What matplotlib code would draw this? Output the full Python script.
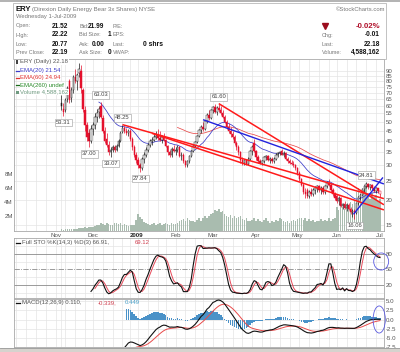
import matplotlib
matplotlib.use('Agg')
import matplotlib.pyplot as plt
import matplotlib.patches as mpatches
from matplotlib.lines import Line2D
from matplotlib.ticker import NullLocator
import numpy as np
import pandas as pd

plt.rcParams['font.family'] = ['Liberation Sans', 'DejaVu Sans']

# ---- trading calendar (ERY daily, 6-Nov-2008 .. 1-Jul-2009)
holidays = pd.to_datetime(['2008-11-27', '2008-12-25', '2009-01-01', '2009-01-19',
                           '2009-02-16', '2009-04-10', '2009-05-25'])
dates = pd.bdate_range('2008-11-06', '2009-07-01')
dates = dates[~dates.isin(holidays)]

# ---- daily OHLC (Nov, Dec, Jan, Feb, Mar, Apr, May, Jun, Jul)
open_ = np.array([
    62, 58, 57, 65, 80, 66, 72, 84, 80, 88, 90, 72, 57, 48, 44, 40,
    46, 48, 53, 56, 60, 52, 45, 41, 38, 35, 36, 37, 36, 37.5, 40, 44.5, 46.5, 45, 44, 45, 41, 37,
    34, 32, 30, 29, 32.5, 34, 36, 38, 40, 40.5, 42, 42.5, 41.5, 40.5, 42, 40.5, 37.5, 35, 34, 36.5,
    35.5, 36, 37, 33.5, 34, 31.5, 30, 31.5, 33.5, 35.5, 37.5, 39.5, 42.5, 45.5, 47, 46, 50.5, 54, 52,
    57, 59, 56, 58.5, 57.5, 55, 53, 50, 47, 45, 43.5, 42, 39, 37, 35, 32, 31, 32, 30.5, 32.5, 35.5, 39,
    35.5, 33, 31.5, 31, 31.5, 33, 33.5, 32, 32.5, 31.5, 32.5, 34, 34.5, 35.5, 34, 34.5, 32.5, 31.5, 31, 30.5, 30,
    29, 27.5, 25.5, 24, 22, 22.5, 21, 22, 21.5, 22.5, 23, 23.5, 22.5, 23, 22, 23.5, 24.5, 24, 22.5, 21.5,
    21, 19.8, 20.5, 18.8, 19.2, 18.4, 19, 18, 17.4, 17.6, 17.2, 19.3, 20.8, 21.4, 22.8, 23.6, 24.2, 23.3, 23.8, 23, 22.4, 23,
    21.52])
high = np.array([
    68, 62, 66, 76, 82, 75, 86, 92, 88, 99, 96, 74, 60, 50, 46, 48,
    50, 55, 58, 60, 63.03, 54, 47, 44, 40, 37, 38, 38, 38.5, 41, 45, 48.25, 47.5, 46.5, 46, 46, 42, 38,
    35, 33, 31, 33, 35, 37, 39, 41, 42, 44, 45, 46, 45, 43, 44, 41, 38, 36, 37, 38,
    37, 38, 37.5, 35, 34.5, 32, 32, 34, 36, 38, 40, 43, 46, 48, 50, 51, 55, 57, 58,
    60, 61, 60, 61.60, 60, 57, 54, 51, 49, 47, 45, 43, 40, 38, 35.5, 33, 32.5, 32, 33, 36, 38, 40.6,
    36, 34, 32.5, 32, 33.5, 34, 34, 33, 33, 33, 34.5, 35, 35.5, 36.5, 35.5, 35, 33, 32.5, 32, 31.5, 30.5,
    29.5, 28, 26, 24.5, 23, 23, 22.5, 23, 23, 23.5, 24, 24, 23.5, 23.5, 24, 25, 25.5, 24.5, 23, 22,
    21.5, 21, 20.8, 19.5, 19.8, 19.4, 19.3, 18.6, 18, 18, 19.5, 21, 21.8, 23, 24, 24.81, 24.5, 24.2, 24.3, 23.6, 23.4, 23.2,
    22.22])
low = np.array([
    57, 53.31, 56, 63, 62, 63, 70, 78, 72, 84, 70, 56, 45, 40, 37.00, 39,
    43, 46, 50, 52, 52, 44, 39, 37, 34, 33.07, 35, 35, 35.5, 37, 39.5, 44, 44, 43, 42.5, 40, 36, 33,
    31, 29, 27.84, 28.5, 31, 33, 35, 37, 38, 40, 41, 40.5, 40, 39, 40, 37, 34, 33, 33, 35,
    34, 35, 33, 32, 31, 29.4, 29.5, 31, 33, 35, 37, 39, 42, 44, 45, 45.5, 49, 51, 51.5,
    55, 55, 54, 56, 54, 52, 49, 46, 44, 42, 41, 38, 36, 34, 31, 30, 30, 30, 30, 32, 34, 35,
    32, 31, 30.5, 30, 31, 32, 31.5, 31, 31, 31, 32, 33, 34, 34, 33, 32, 31, 30.5, 30, 29.5, 28.5,
    27, 25, 23.5, 21.5, 20.5, 20.5, 20.5, 21, 21, 21.5, 22, 22, 21.5, 21.5, 21.5, 23, 23.5, 22, 21, 20,
    19.5, 19, 18.5, 18, 18, 17.6, 17.8, 17, 16.5, 16.06, 17, 19, 20, 21, 22, 23, 22.8, 22.5, 22.6, 22, 21.8, 21.9,
    20.77])
close = np.array([
    60, 56, 64, 74, 64, 72, 84, 80, 86, 92, 74, 58, 48, 42, 40, 46,
    48, 53, 55, 58, 53, 45, 40, 38, 35, 36, 37, 36, 37.5, 40, 44, 46.5, 45, 44, 45, 41, 37, 34,
    32, 30, 29, 32.5, 34, 36, 38, 40, 40.5, 42, 42.5, 41.5, 40.5, 42, 40.5, 37.5, 35, 34, 36.5, 35.5,
    36, 37, 33.5, 34, 31.5, 30, 31.5, 33.5, 35.5, 37.5, 39.5, 42.5, 45.5, 47, 46, 50.5, 54, 52, 57,
    59, 56, 58.5, 57.5, 55, 53, 50, 47, 45, 43.5, 42, 39, 37, 35, 32, 31, 32, 30.5, 32.5, 35.5, 37, 35.5,
    33, 31.5, 31, 31.5, 33, 33.5, 32, 32.5, 31.5, 32.5, 34, 34.5, 35, 34, 34.5, 32.5, 31.5, 31, 30.5, 30, 29,
    27.5, 25.5, 24, 22, 21.5, 21, 22, 21.5, 22.5, 23, 23.5, 22.5, 23, 22, 23.5, 24.5, 24, 22.5, 21.5, 20.5,
    19.8, 20.5, 18.8, 19.2, 18.4, 19, 18, 17.4, 17.6, 17.2, 19.3, 20.8, 21.4, 22.8, 23.6, 24.2, 23.3, 23.8, 23, 22.4, 23, 22.19,
    22.18])
# volume in millions
volume = np.array([
    0.25, 0.2, 0.22, 0.25, 0.3, 0.3, 0.28, 0.35, 0.3, 0.4, 0.45, 0.5, 0.55, 0.5, 0.6, 0.55,
    0.6, 0.7, 0.8, 0.9, 1.1, 1.0, 0.9, 1.2, 1.0, 0.8, 0.9, 1.1, 1.2, 1.0, 1.1, 0.9, 1.0, 0.8, 0.7, 0.9, 0.8, 0.9,
    1.6, 2.4, 2.0, 1.7, 1.3, 1.1, 1.0, 0.9, 1.0, 1.1, 0.9, 1.0, 1.1, 0.9, 1.0, 1.2, 1.0, 0.9, 1.1, 1.0,
    1.0, 1.2, 1.4, 1.6, 1.7, 1.5, 1.8, 1.6, 1.4, 1.5, 1.3, 1.6, 1.8, 1.5, 1.9, 2.1, 1.8, 2.2, 2.5,
    2.6, 3.0, 2.8, 3.1, 2.7, 2.9, 2.4, 2.2, 2.0, 2.3, 1.9, 2.1, 1.8, 2.0, 2.2, 1.7, 1.6, 1.9, 1.5, 1.4, 1.6, 1.8,
    1.5, 1.7, 1.4, 1.3, 1.6, 1.8, 1.5, 1.2, 1.4, 1.3, 1.6, 1.5, 1.9, 1.7, 1.4, 1.3, 1.5, 1.2, 1.4, 1.6, 1.5,
    1.7, 1.9, 1.8, 1.6, 1.8, 1.5, 1.7, 1.4, 1.6, 1.3, 1.5, 1.4, 1.7, 1.5, 1.6, 1.4, 1.8, 1.5, 1.7, 1.9,
    3.4, 3.0, 3.8, 3.5, 3.2, 3.9, 3.6, 4.2, 3.8, 4.4, 5.6, 6.2, 5.0, 4.8, 5.8, 6.4, 5.2, 4.6, 5.4, 4.9, 5.1, 4.3,
    4.59])

peak_idx = [20, 31, 80, 155]
trough_idx = [1, 14, 25, 40, 149]

# hand drawn trend lines: (start index, start price, end index, end price)
red_lines = [(31, 48.25, 164, 20.4), (46, 43.6, 164, 17.9), (80, 61.6, 164, 19.0)]
blue_lines = [(72, 51.1, 164, 24.2), (148.5, 17.0, 163.5, 26.1)]

price_ticks = [90, 85, 80, 75, 70, 65, 60, 55, 50, 45, 40, 35, 30, 25, 20, 15]
vol_ticks = [2, 4, 6, 8]
sto_ticks = [80, 50, 20]
macd_ticks = [5.0, 2.5, 0.0, -2.5, -5.0, -7.5]
month_names = ['Nov', 'Dec', '2009', 'Feb', 'Mar', 'Apr', 'May', 'Jun', 'Jul']


def ema(values, n):
    out = np.full(len(values), np.nan)
    valid = np.where(~np.isnan(values))[0]
    s = valid[0]
    out[s + n - 1] = np.mean(values[s:s + n])
    a = 2.0 / (n + 1)
    for i in range(s + n, len(values)):
        out[i] = out[i - 1] + a * (values[i] - out[i - 1])
    return out


n = len(close)
idx = np.arange(n)
ema20 = ema(close, 20)
ema60 = ema(close, 60)
macd = ema(close, 12) - ema(close, 26)
signal = ema(macd, 9)
hist = macd - signal
hh = pd.Series(high).rolling(14).max().values
ll = pd.Series(low).rolling(14).min().values
fast_k = 100 * (close - ll) / (hh - ll)
sto_k = pd.Series(fast_k).rolling(3).mean().values
sto_d = pd.Series(sto_k).rolling(3).mean().values

month_pos = [-3] + [i for i in range(1, n) if dates[i].month != dates[i - 1].month]
week_pos = [-23, -18, -13, -8, -3] + [i for i in range(n) if i == 0 or dates[i].weekday() < dates[i - 1].weekday()]

# ---- geometry (pixels of a 400x352 image)
W, H = 400, 352
X0, X1 = 14, 383.5
XL, XR = (X0 - 61.5) / 1.966, (X1 - 61.5) / 1.966


def rect(top, bottom):
    return [X0 / W, 1 - bottom / H, (X1 - X0) / W, (bottom - top) / H]


def ftext(x, y, s, **kw):
    kw.setdefault('va', 'center')
    fig.text(x / W, 1 - y / H, s, **kw)


fig = plt.figure(figsize=(4.0, 3.52), dpi=100)
fig.patch.set_facecolor('white')
GRID = '#e4e4e4'
FRAME = '#a8a8a8'
LBL = '#555555'

# window strips
fig.add_artist(mpatches.Rectangle((0, 1 - 1.5 / H), 1, 1.5 / H, transform=fig.transFigure,
                                  color='#b4b4b4', lw=0))
fig.add_artist(mpatches.Rectangle((0, 0), 1, 4.5 / H, transform=fig.transFigure,
                                  color='#d6d3ce', lw=0))
fig.add_artist(Line2D([0, 1], [4.5 / H, 4.5 / H], transform=fig.transFigure, color='#9a9a9a', lw=0.6))
fig.add_artist(mpatches.Rectangle((13 / W, 1 - 58.5 / H), 373 / W, 55.5 / H, transform=fig.transFigure,
                                  fill=False, ec='#b8b8b8', lw=0.6))

# ---- header
ftext(15, 9.3, 'ERY', fontsize=5.6, fontweight='bold', color='#111')
ftext(32, 9.3, '(Direxion Daily Energy Bear 3x Shares) NYSE', fontsize=4.3, color='#777')
ftext(15.5, 16.5, 'Wednesday 1-Jul-2009', fontsize=4.2, color='#777')
ftext(385, 9.3, '\u00a9StockCharts.com', fontsize=4.2, color='#777', ha='right')
rows_y = [26, 35, 44, 52.7]
col1 = ['Open:', 'High:', 'Low:', 'Prev Close:']
val1 = ['21.52', '22.22', '20.77', '22.19']
col2 = ['Bid:', 'Bid Size:', 'Ask:', 'Ask Size:']
val2 = ['21.99', '1', '0.00', '0']
col3 = ['P/E:', 'EPS:', 'Last:', 'VWAP:']
for y, a, b, c, d, e in zip(rows_y, col1, val1, col2, val2, col3):
    ftext(15.5, y, a, fontsize=4.0, color='#777')
    ftext(68, y, b, fontsize=4.7, fontweight='bold', color='#111', ha='right')
    ftext(79, y, c, fontsize=4.0, color='#777')
    if len(d) > 1:
        ftext(104, y, d, fontsize=4.7, fontweight='bold', color='#111', ha='right')
    else:
        ftext(107.5, y, d, fontsize=4.7, fontweight='bold', color='#111')
    ftext(113, y, e, fontsize=4.0, color='#777')
ftext(163, 44, '0 shrs', fontsize=4.9, fontweight='bold', color='#111', ha='right')
fig.add_artist(Line2D([325 / W], [1 - 25.5 / H], transform=fig.transFigure, marker='v', ms=4,
                      color='#9b0d1e', ls='none'))
ftext(380, 26, '-0.02%', fontsize=5.6, fontweight='bold', color='#b0102a', ha='right')
for y, a, b in zip(rows_y[1:], ['Chg:', 'Last:', 'Volume:'], ['-0.01', '22.18', '4,588,162']):
    ftext(322, y, a, fontsize=4.0, color='#777')
    ftext(380, y, b, fontsize=4.7, fontweight='bold', color='#111', ha='right')

# ---- price + volume panel
axp = fig.add_axes(rect(58.5, 231))
axp.set_yscale('log')
axp.set_xlim(XL, XR)
axp.set_ylim(90 * np.exp((71 - 231) / 86), 90 * np.exp((71 - 58.5) / 86))
for w in week_pos:
    axp.axvline(w, color=GRID, lw=0.5, zorder=0)
for p in price_ticks:
    axp.axhline(p, color=GRID, lw=0.5, zorder=0)

VOL_TOP = (231 - 58.5) / 7.0
axp.bar(idx, volume / VOL_TOP, width=0.8, color='#a9bcaf', lw=0,
        transform=axp.get_xaxis_transform(), zorder=1)

axp.plot(idx, ema60, color='#e84a4a', lw=0.55, zorder=3)
axp.plot(idx, ema20, color='#3a3ac8', lw=0.55, zorder=3)

prev = np.r_[close[0], close[:-1]]
col = np.where(close < prev, '#e4102c', '#1a1a1a')
axp.vlines(idx, low, high, colors=col, lw=0.5, zorder=4)
lo_b = np.minimum(open_, close)
hi_b = np.maximum(open_, close)
face = np.where(close >= open_, '#ffffff', col)
axp.bar(idx, hi_b - lo_b, bottom=lo_b, width=0.75, color=face, edgecolor=col, lw=0.35, zorder=5)

for x0, p0, x1, p1 in red_lines:
    axp.plot([x0, x1], [p0, p1], color='#ff1a1a', lw=1.1, zorder=6, solid_capstyle='butt')
for x0, p0, x1, p1 in blue_lines:
    axp.plot([x0, x1], [p0, p1], color='#2222dd', lw=1.0, zorder=6, solid_capstyle='butt')

box = dict(boxstyle='square,pad=0.2', fc='white', ec='#9a9a9a', lw=0.4)
for i in peak_idx:
    axp.annotate(f'{high[i]:.2f}', (i, high[i]), xytext=(0, 4.8), textcoords='offset points',
                 ha='center', va='center', fontsize=4.2, color='#444', bbox=box, zorder=8)
for i in trough_idx:
    axp.annotate(f'{low[i]:.2f}', (i, low[i]), xytext=(0, -4.6), textcoords='offset points',
                 ha='center', va='center', fontsize=4.2, color='#444', bbox=box, zorder=8)

axp.yaxis.tick_right()
axp.set_yticks(price_ticks, labels=[str(p) for p in price_ticks])
axp.yaxis.set_minor_locator(NullLocator())
axp.set_xticks(month_pos, labels=month_names)
axp.tick_params(length=0, labelsize=4.4, colors=LBL, pad=1.5)
axp.tick_params(axis='x', pad=1.2)
for t in axp.get_xticklabels():
    if t.get_text() == '2009':
        t.set_fontweight('bold')
        t.set_color('#222')
for v in vol_ticks:
    axp.text(-0.003, v / VOL_TOP, f'{v}M', transform=axp.transAxes, ha='right', va='center',
             fontsize=4.4, color=LBL)
for s in axp.spines.values():
    s.set_color(FRAME)
    s.set_linewidth(0.6)

# price legend
leg = [('ERY (Daily) 22.18', '#555555', None),
       ('EMA(20) 21.54', '#3a3ac8', '#3a3ac8'),
       ('EMA(60) 24.94', '#e03030', '#e03030'),
       ('EMA(260) undef', '#2a8a2a', '#1a6a1a'),
       ('Volume 4,588,162', '#6f9a80', None)]
for (s, c, lc), y in zip(leg, [62, 70.5, 78, 85.3, 92]):
    ftext(20.5, y, s, fontsize=4.3, color=c, bbox=dict(fc='white', ec='none', pad=0.4))
    if lc:
        fig.add_artist(Line2D([15.5 / W, 19.5 / W], [1 - y / H] * 2, transform=fig.transFigure, color=lc, lw=0.9))
fig.add_artist(mpatches.Rectangle((16 / W, 1 - 63.5 / H), 2.2 / W, 3.5 / H, transform=fig.transFigure,
                                  color='#444', lw=0))
fig.add_artist(mpatches.Rectangle((16 / W, 1 - 93.5 / H), 3 / W, 3 / H, transform=fig.transFigure,
                                  color='#6f9a80', lw=0))

# ---- stochastics panel
axs = fig.add_axes(rect(238, 297.5))
axs.set_xlim(XL, XR)
axs.set_ylim(20 - 12.5 / 0.5167, 80 + 16 / 0.5167)
for w in week_pos:
    axs.axvline(w, color=GRID, lw=0.5, zorder=0)
for v in [5, 35, 65, 95]:
    axs.axhline(v, color=GRID, lw=0.5, zorder=0)
axs.axhline(80, color='#8a8a8a', lw=0.6, zorder=1)
axs.axhline(20, color='#8a8a8a', lw=0.6, zorder=1)
axs.axhline(50, color='#8a8a8a', lw=0.6, ls='-.', zorder=1)
axs.plot(idx, sto_d, color='#e84a5a', lw=0.7, zorder=3)
axs.plot(idx, sto_k, color='#111111', lw=0.8, zorder=4)
axs.add_patch(mpatches.Ellipse((162.6, 65.5), 7.6, 33, fill=False, ec='#5a5ae0', lw=0.6,
                               clip_on=False, zorder=6))
axs.yaxis.tick_right()
axs.set_yticks(sto_ticks, labels=[str(v) for v in sto_ticks])
axs.set_xticks([])
axs.tick_params(length=0, labelsize=4.4, colors=LBL, pad=1.5)
for s in axs.spines.values():
    s.set_color(FRAME)
    s.set_linewidth(0.6)
fig.add_artist(Line2D([15.5 / W, 19.5 / W], [1 - 242.7 / H] * 2, transform=fig.transFigure, color='#111', lw=0.9))
ftext(21.5, 242.7, 'Full STO %K(14,3) %D(3) 66.91,', fontsize=4.3, color='#555')
ftext(134.5, 242.7, '69.12', fontsize=4.3, color='#d04050')

# ---- MACD panel
axm = fig.add_axes(rect(299, 347))
axm.set_xlim(XL, XR)
axm.set_ylim(-27.5 / 3.656, 20.5 / 3.656)
for w in week_pos:
    axm.axvline(w, color=GRID, lw=0.5, zorder=0)
for v in macd_ticks:
    axm.axhline(v, color=GRID, lw=0.5, zorder=0)
axm.bar(idx, hist, width=0.8, color='#4a92c8', lw=0, zorder=2)
axm.plot(idx, signal, color='#e84a4a', lw=0.7, zorder=3)
axm.plot(idx, macd, color='#111111', lw=0.8, zorder=4)
axm.add_patch(mpatches.Ellipse((161.6, 0.0), 6.2, 7.4, fill=False, ec='#5a5ae0', lw=0.6,
                               clip_on=False, zorder=6))
axm.yaxis.tick_right()
axm.set_yticks(macd_ticks, labels=[f'{v:.1f}' for v in macd_ticks])
axm.set_xticks([])
axm.tick_params(length=0, labelsize=4.4, colors=LBL, pad=1.5)
for s in axm.spines.values():
    s.set_color(FRAME)
    s.set_linewidth(0.6)
fig.add_artist(Line2D([15.5 / W, 19.5 / W], [1 - 302.7 / H] * 2, transform=fig.transFigure, color='#111', lw=0.9))
ftext(21.5, 302.7, 'MACD(12,26,9) 0.110,', fontsize=4.3, color='#555')
ftext(98, 302.7, '-0.339,', fontsize=4.3, color='#d04050')
ftext(124.5, 302.7, '0.449', fontsize=4.3, color='#4aa0c8')

fig.savefig('out.png', dpi=100)
